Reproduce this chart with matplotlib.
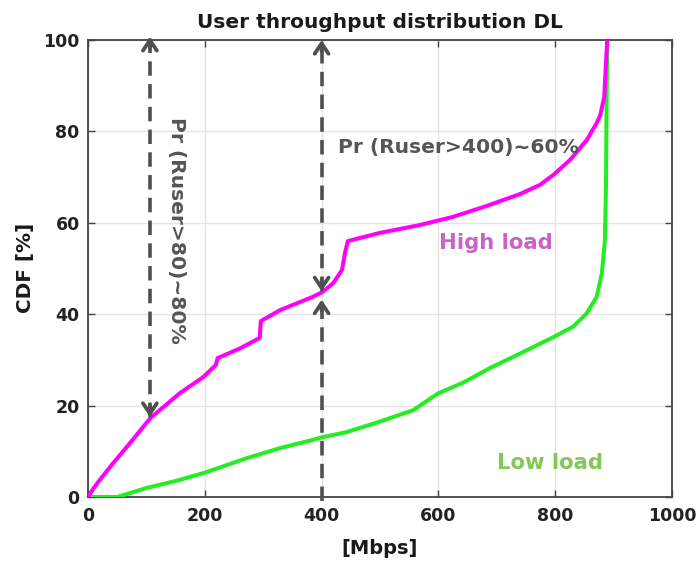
import matplotlib
matplotlib.use("Agg")
import matplotlib.pyplot as plt

# ---------------- data ----------------
high_x = [0, 10, 20, 43, 70, 107, 157, 197, 219, 222, 260, 294, 296, 329, 385, 402,
          420, 435, 440, 445, 500, 568, 625, 683, 740, 774, 797, 825, 854, 871, 877, 884, 887, 889]
high_y = [0, 2.0, 3.7, 7.4, 11.5, 17.3, 22.7, 26.2, 28.9, 30.4, 32.5, 34.8, 38.5, 40.9, 43.8, 44.9,
          46.8, 49.7, 53.4, 56.0, 57.8, 59.5, 61.3, 63.7, 66.3, 68.3, 70.5, 73.7, 78.1, 81.8, 83.5, 87.5, 95.0, 100]

low_x = [0, 50, 101, 150, 197, 272, 329, 385, 402, 443, 495, 557, 580, 600, 642, 688, 740,
         797, 831, 854, 871, 880, 885, 887, 888, 889]
low_y = [0, 0, 2.0, 3.5, 5.2, 8.5, 10.7, 12.5, 13.1, 14.2, 16.3, 19.0, 21.0, 22.7, 25.0, 28.2, 31.4,
         35.0, 37.3, 40.2, 43.8, 49.0, 56.0, 68.0, 86.0, 100]

x_ticks = [0, 200, 400, 600, 800, 1000]
y_ticks = [0, 20, 40, 60, 80, 100]

title = "User throughput distribution DL"
xlabel = "[Mbps]"
ylabel = "CDF [%]"

# ---------------- figure ----------------
W, H = 696, 562
fig = plt.figure(figsize=(W / 100, H / 100), dpi=100)
ax = fig.add_axes([88 / W, 65 / H, 584 / W, 457 / H])

ax.plot(low_x, low_y, color="#22ee22", lw=2.9, zorder=3,
        solid_joinstyle="round", solid_capstyle="round")
ax.plot(high_x, high_y, color="#ff00ff", lw=2.9, zorder=4,
        solid_joinstyle="round", solid_capstyle="round")

ax.set_xlim(0, 1000)
ax.set_ylim(0, 100)
ax.set_xticks(x_ticks)
ax.set_yticks(y_ticks)
ax.grid(True, color="#e4e4e4", lw=1.0)
ax.set_axisbelow(True)
for s in ax.spines.values():
    s.set_color("#444444")
    s.set_linewidth(1.3)
ax.tick_params(direction="in", top=True, right=True, length=5, width=1,
               color="#444444", labelcolor="#222222", labelsize=12.5)
ax.tick_params(axis="x", pad=7)
ax.tick_params(axis="y", pad=6)
for lbl in ax.get_xticklabels() + ax.get_yticklabels():
    lbl.set_fontweight("bold")

# dashed arrows
acol = "#505050"
dash = (0, (4.0, 2.3))
alw = 2.6
ax.plot([106, 106], [17.5, 100.7], color=acol, lw=alw, ls=dash, zorder=5, clip_on=False)
ax.plot([400, 400], [45.0, 100.0], color=acol, lw=alw, ls=dash, zorder=5, clip_on=False)
ax.plot([400, 400], [-0.8, 43.2], color=acol, lw=alw, ls=dash, zorder=5, clip_on=False)

def head(x, y_tip, direction):
    y_from = y_tip - 2.5 * direction
    ax.annotate("", xy=(x, y_tip), xytext=(x, y_from),
                arrowprops=dict(arrowstyle="->,head_length=0.75,head_width=0.5",
                                lw=2.7, color=acol, shrinkA=0, shrinkB=0),
                annotation_clip=False, zorder=6)

head(106, 100.7, 1)
head(106, 17.5, -1)
head(400, 100.0, 1)
head(400, 45.0, -1)
head(400, 43.2, 1)

tcol = "#555555"
ax.text(428, 76.4, "Pr (Ruser>400)~60%", color=tcol, fontsize=14.6, fontweight="bold",
        ha="left", va="center", zorder=7)
ax.text(152, 58.4, "Pr (Ruser>80)~80%", color=tcol, fontsize=14.6, fontweight="bold",
        ha="center", va="center", rotation=-90, zorder=7)
ax.text(699, 55.6, "High load", color="#c864c8", fontsize=15.2, fontweight="bold",
        ha="center", va="center", zorder=7)
ax.text(791, 7.4, "Low load", color="#82c855", fontsize=15.2, fontweight="bold",
        ha="center", va="center", zorder=7)

fig.text(380 / W, 1 - 28 / H, title, ha="center", va="baseline", fontsize=14.5,
         fontweight="bold", color="#1a1a1a")
fig.text(380 / W, 1 - 548 / H, xlabel, ha="center", va="center", fontsize=14,
         fontweight="bold", color="#1a1a1a")
fig.text(25 / W, 1 - 268 / H, ylabel, ha="center", va="center", rotation=90, fontsize=14.4,
         fontweight="bold", color="#1a1a1a")

fig.savefig("out.png", dpi=100)
